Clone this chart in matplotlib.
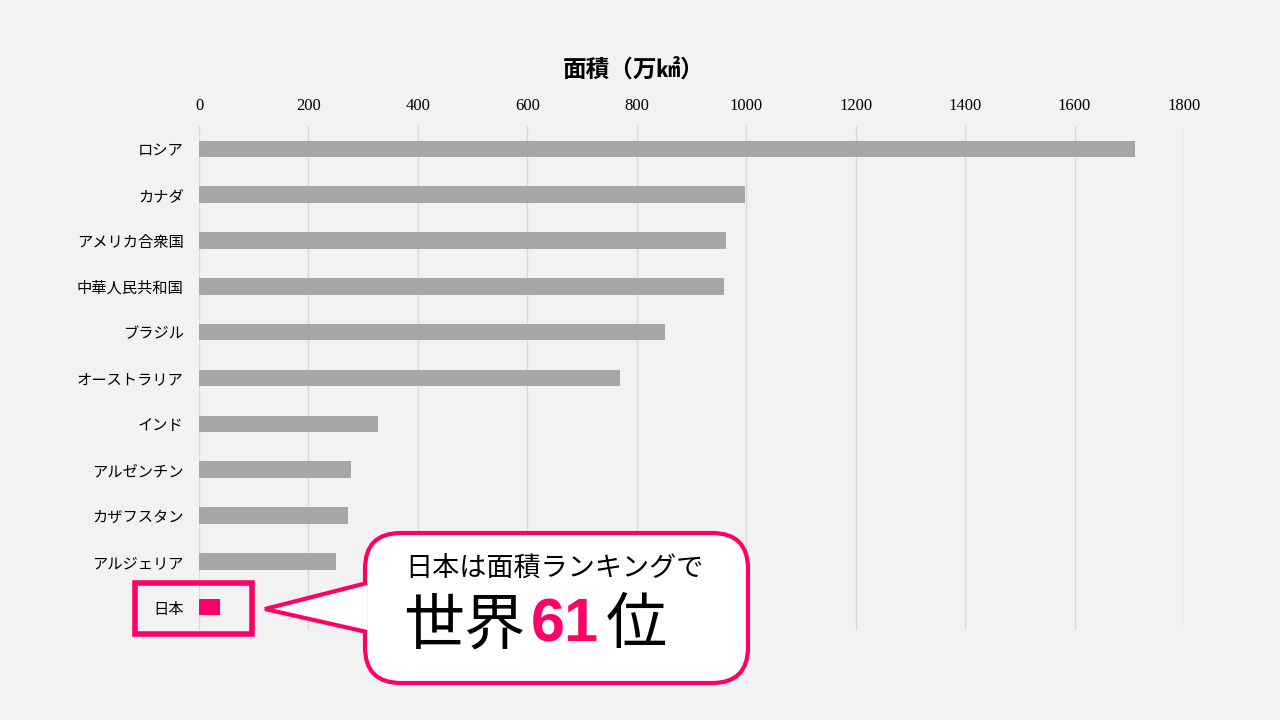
import numpy as np
import matplotlib
matplotlib.use("Agg")
import matplotlib.pyplot as plt
from matplotlib.patches import FancyBboxPatch, Polygon, Rectangle

plt.rcParams['font.family'] = ['Noto Sans CJK JP', 'DejaVu Sans']

# data (万km2)
countries = ['ロシア', 'カナダ', 'アメリカ合衆国', '中華人民共和国', 'ブラジル',
             'オーストラリア', 'インド', 'アルゼンチン', 'カザフスタン', 'アルジェリア', '日本']
area = [1710, 998, 963, 960, 852, 770, 328, 278, 272, 250, 38]
xticks = [0, 200, 400, 600, 800, 1000, 1200, 1400, 1600, 1800]

pink = '#ff0066'
gray = '#a6a6a6'
bg = '#f2f2f2'

fig = plt.figure(figsize=(12.8, 7.2), dpi=100, facecolor=bg)
ax = fig.add_axes([199 / 1280, 1 - 630 / 720, 985 / 1280, 504 / 720])
ax.set_facecolor(bg)

y = np.arange(len(countries))
colors = [gray] * (len(countries) - 1) + [pink]
ax.barh(y, area, height=0.36, color=colors, zorder=3)
ax.set_ylim(len(countries) - 0.5, -0.5)
ax.set_xlim(0, 1800)
ax.set_yticks(y)
ax.set_yticklabels(countries, fontsize=11)
ax.set_xticks(xticks)
ax.set_xticklabels([str(t) for t in xticks], family='Liberation Serif', fontsize=12)
ax.xaxis.tick_top()
ax.tick_params(axis='x', length=0, pad=9)
ax.tick_params(axis='y', length=0, pad=11)
ax.grid(axis='x', color='#d9d9d9', lw=1, zorder=0)
for s in ax.spines.values():
    s.set_visible(False)

fig.text(634 / 1280, 1 - 70 / 720, '面積（万㎢）', ha='center', va='center',
         fontsize=17, fontweight='bold')

# pixel coordinates helper (origin top-left)
def px(x, yy):
    return (x / 1280, 1 - yy / 720)

# highlight box around Japan
x0, y0 = px(135, 634)
fig.add_artist(Rectangle((x0, y0), 117 / 1280, 51 / 720, transform=fig.transFigure,
                         fill=False, ec=pink, lw=4))

# callout
bx, by = px(365, 683)
fig.add_artist(FancyBboxPatch((bx, by), 383 / 1280, 150 / 720,
                              boxstyle='round,pad=0,rounding_size=0.028',
                              transform=fig.transFigure, fc='white', ec=pink, lw=3,
                              mutation_aspect=1280 / 720))
fig.add_artist(Polygon([px(367, 583), px(265, 609), px(367, 632)], closed=False,
                       transform=fig.transFigure, fc='white', ec=pink, lw=3))

fig.text(405 / 1280, 1 - 569 / 720, '日本は面積ランキングで', ha='left', va='center',
         fontsize=19.5)
fig.text(403 / 1280, 1 - 626 / 720, '世界', ha='left', va='center', fontsize=44)
fig.text(531 / 1280, 1 - 626 / 720, '61', ha='left', va='center', fontsize=44,
         fontweight='bold', color=pink, family='Liberation Sans')
fig.text(606 / 1280, 1 - 626 / 720, '位', ha='left', va='center', fontsize=44)

fig.savefig('out.png', dpi=100, facecolor=bg)
